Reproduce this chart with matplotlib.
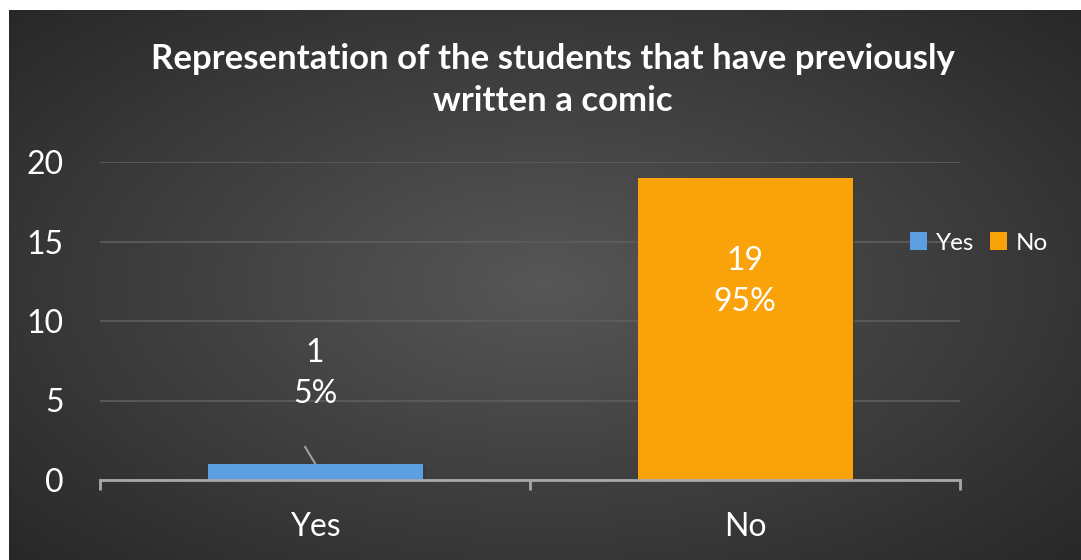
import numpy as np
import matplotlib
matplotlib.use("Agg")
import matplotlib.pyplot as plt
from matplotlib.patches import Patch
import matplotlib.patheffects as pe

categories = ["Yes", "No"]
counts = [1, 19]
percents = ["5%", "95%"]
bar_colors = ["#5b9fe0", "#f9a20a"]
yticks = [0, 5, 10, 15, 20]

plt.rcParams["font.family"] = ["Lato", "DejaVu Sans"]

W, H = 1081, 560
fig = plt.figure(figsize=(W / 100, H / 100), dpi=100)
fig.patch.set_facecolor("white")

# dark radial backdrop of the chart area (white strip on top and left)
bg = fig.add_axes([9 / W, 0, 1 - 9 / W, 1 - 10 / H])
gx, gy = np.meshgrid(np.linspace(-1, 1, 400), np.linspace(-1, 1, 220))
r = np.sqrt((gx * 0.95) ** 2 + (gy * 0.9) ** 2)
shade = 0.34 - 0.19 * np.clip(r / 1.35, 0, 1)
bg.imshow(np.dstack([shade] * 3), aspect="auto", extent=[0, 1, 0, 1], interpolation="bilinear")
bg.set_axis_off()

ax = fig.add_axes([100 / W, 80 / H, 860 / W, 318 / H])
ax.patch.set_visible(False)
x = np.arange(len(categories))
bars = ax.bar(x, counts, width=0.5, color=bar_colors, zorder=3,
              path_effects=[pe.SimplePatchShadow(offset=(2, -2), alpha=0.35), pe.Normal()])

ax.set_xlim(-0.5, len(categories) - 0.5)
ax.set_ylim(0, 20)
ax.set_yticks(yticks)
ax.yaxis.grid(True, color="#5e5e5e", linewidth=1.2, zorder=0)
ax.set_axisbelow(True)
for s in ["top", "right", "left"]:
    ax.spines[s].set_visible(False)
ax.spines["bottom"].set_color("#a8a8a8")
ax.spines["bottom"].set_linewidth(2)
ax.spines["bottom"].set_zorder(4)

ax.set_xticks(x)
ax.set_xticklabels(categories)
ax.set_xticks(np.arange(len(categories) + 1) - 0.5, minor=True)
ax.tick_params(axis="x", which="major", length=0, pad=23, labelsize=23, labelcolor="white")
ax.tick_params(axis="x", which="minor", length=7.5, width=2, color="#a8a8a8")
ax.tick_params(axis="y", length=0, pad=26, labelsize=23, labelcolor="white")

# value labels: count and share
label_y = [6.7, 12.5]
for xi, c, p, ly in zip(x, counts, percents, label_y):
    ax.text(xi, ly, f"{c}\n{p}", ha="center", va="center", color="white",
            fontsize=23, linespacing=1.45, zorder=5)
# leader line for the short bar
ax.plot([x[0] - 0.023, x[0]], [2.08, counts[0] + 0.05], color="#a0a0a0", lw=1.5, zorder=4)

fig.text(553 / W, 1 - 80 / H, "Representation of the students that have previously\nwritten a comic",
         ha="center", va="center", color="white", fontsize=25, fontweight="bold", linespacing=1.38)

handles = [Patch(facecolor=c, label=l) for c, l in zip(bar_colors, categories)]
leg = fig.legend(handles=handles, loc="center", bbox_to_anchor=(979 / W, 1 - 243 / H), ncol=2,
                 frameon=False, fontsize=17.5, handlelength=0.72, handleheight=0.72,
                 handletextpad=0.35, columnspacing=0.65, borderaxespad=0)
for t in leg.get_texts():
    t.set_color("white")

fig.savefig("out.png", dpi=100)
